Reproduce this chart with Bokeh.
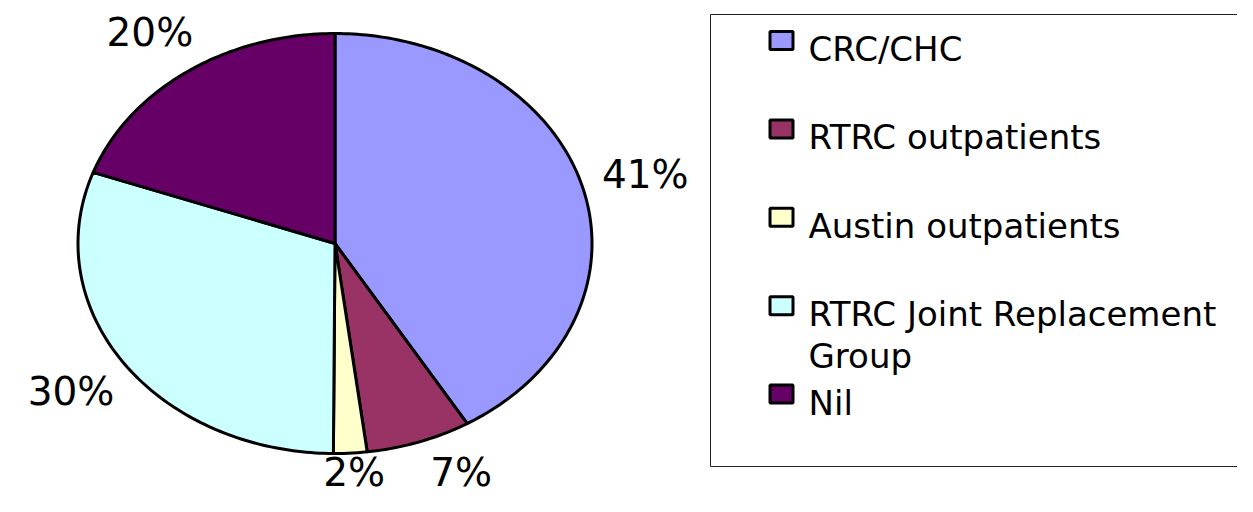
import math
import textwrap
from bokeh.plotting import figure
from bokeh.models import Range1d
from bokeh.core.properties import value
from bokeh.embed import file_html
from bokeh.resources import INLINE

# ---- data ----
categories = ["CRC/CHC", "RTRC outpatients", "Austin outpatients",
              "RTRC Joint Replacement Group", "Nil"]
shares = [41.4, 6.6, 2.1, 30.4, 19.5]
colors = ["#9999FF", "#993366", "#FFFFCC", "#CCFFFF", "#660066"]

# ---- layout (pixel space of the picture) ----
W, H = 1237, 496
cx, cy, rx, ry = 334.5, 243.0, 257.0, 210.0
lab_rx, lab_ry = 322.0, 258.0
FONT = "DejaVu Sans"

p = figure(width=W, height=H, output_backend="svg", toolbar_location=None,
           x_range=Range1d(0, W), y_range=Range1d(H, 0),
           min_border=0, outline_line_color=None)
p.axis.visible = False
p.grid.visible = False
p.background_fill_color = "white"

total = sum(shares)
xs, ys, mids = [], [], []
acc = 0.0
for s in shares:
    a0 = acc / total * 2 * math.pi
    acc += s
    a1 = acc / total * 2 * math.pi
    n = max(4, int((a1 - a0) / (2 * math.pi) * 360))
    px, py = [cx], [cy]
    for k in range(n + 1):
        t = a0 + (a1 - a0) * k / n
        px.append(cx + rx * math.sin(t))
        py.append(cy - ry * math.cos(t))
    xs.append(px)
    ys.append(py)
    mids.append((a0 + a1) / 2)

p.patches(xs=xs, ys=ys, fill_color=colors, line_color="black",
          line_width=3, line_join="round")

# percentage labels (kept inside the picture, simple collision spacing)
lx = [cx + lab_rx * math.sin(m) for m in mids]
ly = [min(cy - lab_ry * math.cos(m), H - 24) for m in mids]
MIN_GAP = 107
for i in range(len(lx)):
    for j in range(len(lx)):
        if i != j and abs(ly[i] - ly[j]) < 30 and 0 < lx[i] - lx[j] < MIN_GAP:
            lx[i] = lx[j] + MIN_GAP
ltxt = [f"{round(s / total * 100)}%" for s in shares]
p.text(x=lx, y=ly, text=ltxt, text_font=value(FONT), text_font_size="39px",
       text_align="center", text_baseline="middle", text_color="black")

# legend (drawn manually; box runs off the right edge)
box_l, box_t, box_b = 710, 14, 466
p.line(x=[W + 20, box_l, box_l, W + 20], y=[box_t, box_t, box_b, box_b],
       line_color="#222222", line_width=1)

first_y, step = 40.0, 88.4
sq_x, txt_x = 781, 808
sq_y = [first_y + i * step for i in range(len(categories))]
p.rect(x=[sq_x] * len(categories), y=sq_y, width=23, height=18,
       fill_color=colors, line_color="black", line_width=3)

tx, ty, tt = [], [], []
for i, name in enumerate(categories):
    for j, line in enumerate(textwrap.wrap(name, 22)):
        tx.append(txt_x)
        ty.append(sq_y[i] + 8.5 + j * 42)
        tt.append(line)
p.text(x=tx, y=ty, text=tt, text_font=value(FONT), text_font_size="34px",
       text_align="left", text_baseline="alphabetic", text_color="black")

open("out.html", "w").write(file_html(p, INLINE))
